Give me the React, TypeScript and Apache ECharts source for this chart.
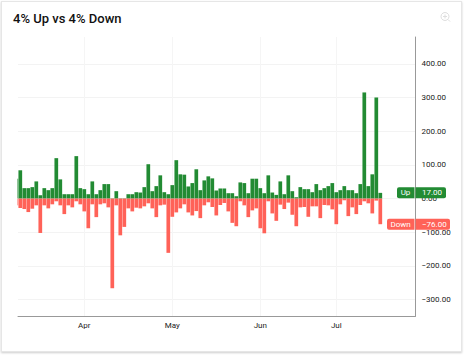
import React, { useEffect, useRef } from "react";
import * as echarts from "echarts";

const TITLE = "4% Up vs 4% Down";
const monthLabels = ["Apr", "May", "Jun", "Jul"];
const monthPositions = [17, 39, 61, 80];
const yTicks = [-300, -200, -100, 0, 100, 200, 300, 400];

const upValues = [
  59, 84, 31, 31, 34, 51, 10, 31, 25, 31, 120, 57, 13, 13, 13, 126, 31, 28, 13, 51, 13, 25, 43, 43, 1, 22, 1, 1, 13, 13,
  19, 18, 34, 102, 22, 37, 69, 19, 13, 40, 114, 72, 71, 36, 46, 87, 25, 54, 66, 60, 24, 30, 30, 16, 16, 7, 48, 46, 16,
  59, 59, 31, 16, 69, 18, 11, 51, 13, 69, 22, 4, 34, 28, 28, 19, 43, 25, 31, 37, 46, 19, 25, 37, 25, 25, 16, 43, 315,
  37, 72, 300, 17,
];
const downValues = [
  -20, -28, -31, -40, -30, -20, -102, -20, -29, -17, -8, -20, -46, -20, -26, -8, -17, -38, -88, -17, -55, -17, -14, -26,
  -266, -20, -109, -84, -29, -38, -27, -29, -23, -14, -29, -55, -20, -18, -161, -54, -41, -29, -17, -41, -50, -37, -58,
  -20, -11, -25, -50, -19, -13, -38, -72, -82, -8, -20, -55, -35, -29, -88, -103, -8, -44, -66, -18, -31, -12, -48, -82,
  -26, -25, -54, -23, -23, -58, -19, -20, -32, -76, -17, -5, -52, -26, -46, -19, -8, -14, -44, -6, -76,
];

const GREEN = "#228b33";
const RED = "#ff6258";
const FONT = "Roboto, sans-serif";

const fmt = (v: number) => (v < 0 ? "\u2212" : "") + Math.abs(v).toFixed(2);

export default function App() {
  const ref = useRef<HTMLDivElement>(null);
  useEffect(() => {
    const chart = echarts.init(ref.current!, undefined, { renderer: "svg" });
    const option: any = {
      animation: false,
      title: {
        text: TITLE,
        left: 8,
        top: 7,
        textStyle: { fontFamily: FONT, fontSize: 13, fontWeight: 500, color: "#111" },
      },
      grid: { left: 18, right: 50.5, top: 37, bottom: 40 },
      xAxis: {
        type: "value",
        min: 0.425,
        max: 99.8,
        axisLine: { show: true, onZero: false, lineStyle: { color: "#999", width: 1 } },
        axisTick: { show: false, customValues: monthPositions },
        axisLabel: {
          customValues: monthPositions,
          formatter: (v: number) => monthLabels[monthPositions.indexOf(v)] ?? "",
          color: "#222",
          fontFamily: FONT,
          fontSize: 8,
          margin: 5,
        },
        splitLine: { show: true, lineStyle: { color: "#f5f5f5", width: 1 } },
      },
      yAxis: {
        type: "value",
        position: "right",
        min: -348.4,
        max: 479.5,
        axisLine: { show: true, onZero: false, lineStyle: { color: "#999", width: 1 } },
        axisTick: { show: false, customValues: yTicks },
        axisLabel: {
          customValues: yTicks,
          formatter: (v: number) => fmt(v),
          color: "#222",
          fontFamily: FONT,
          fontSize: 8,
          margin: 6,
          align: "left",
        },
        splitLine: { show: true, lineStyle: { color: "#f3f3f3", width: 1 } },
      },
      series: [
        {
          name: "Up",
          type: "bar",
          barWidth: 3.7,
          barGap: "-100%",
          itemStyle: { color: GREEN },
          data: upValues.map((v, i) => [i, v]),
        },
        {
          name: "Down",
          type: "bar",
          barWidth: 3.7,
          barGap: "-100%",
          itemStyle: { color: RED },
          data: downValues.map((v, i) => [i, v]),
        },
      ],
    };
    chart.setOption(option);

    const tag = (name: string, value: number, color: string, left: number, right: number) => {
      const y = chart.convertToPixel({ yAxisIndex: 0 }, value) as number;
      const h = 11;
      const textStyle = { fontFamily: FONT, fontSize: 8, fill: "#fff", verticalAlign: "middle" };
      return [
        { type: "rect", z: 50, shape: { x: left, y: y - h / 2, width: 415 - left - 0.5, height: h, r: [2, 0, 0, 2] }, style: { fill: color } },
        { type: "rect", z: 50, shape: { x: 415.5, y: y - h / 2, width: right - 415.5, height: h, r: [0, 2, 2, 0] }, style: { fill: color } },
        { type: "text", z: 51, x: (left + 414) / 2, y, style: { ...textStyle, text: name, align: "center" } },
        { type: "text", z: 51, x: 422, y, style: { ...textStyle, text: fmt(value), align: "left" } },
      ];
    };
    chart.setOption({
      graphic: [
        // the plot clips the first bar at its left edge
        { type: "rect", z: 50, shape: { x: 12, y: 100, width: 5.5, height: 200 }, style: { fill: "#fff" } },
        ...tag("Up", upValues[upValues.length - 1], GREEN, 397, 446),
        ...tag("Down", downValues[downValues.length - 1], RED, 387, 450),
        { type: "circle", shape: { cx: 445, cy: 16.5, r: 4 }, style: { fill: "none", stroke: "#dedede", lineWidth: 1 } },
        { type: "line", shape: { x1: 443, y1: 16.5, x2: 447, y2: 16.5 }, style: { stroke: "#dedede", lineWidth: 1 } },
        { type: "line", shape: { x1: 445, y1: 14.5, x2: 445, y2: 18.5 }, style: { stroke: "#dedede", lineWidth: 1 } },
        { type: "line", shape: { x1: 448, y1: 19.5, x2: 450, y2: 21.5 }, style: { stroke: "#dedede", lineWidth: 1 } },
      ],
    });
    return () => chart.dispose();
  }, []);
  return (
    <div style={{ position: "fixed", left: 0, top: 0, width: 466, height: 356, background: "#fff" }}>
      <div
        style={{
          position: "absolute",
          left: 1,
          top: 1,
          width: 459,
          height: 349,
          border: "1px solid #e6e6e6",
          boxShadow: "0 1px 2px rgba(0,0,0,0.2)",
        }}
      />
      <div ref={ref} style={{ position: "absolute", left: 0, top: 0, width: 466, height: 356 }} />
    </div>
  );
}
